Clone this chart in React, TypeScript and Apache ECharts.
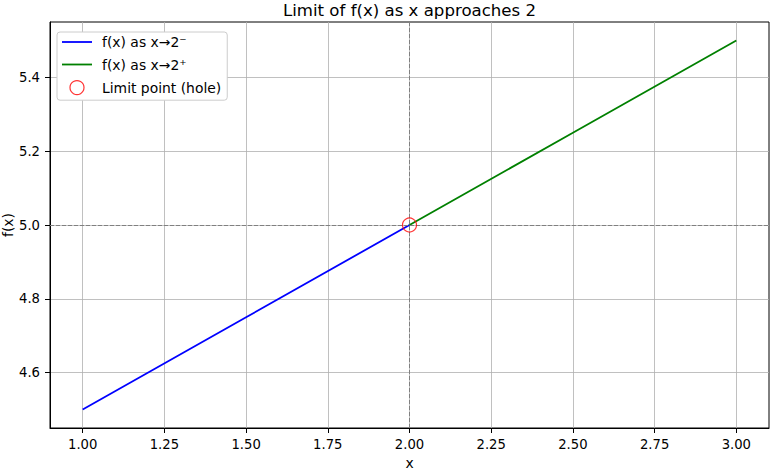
import React, { useEffect, useRef } from "react";
import * as echarts from "echarts";

const TITLE = "Limit of f(x) as x approaches 2";
const leftX = [1.0, 1.5, 2.0];
const leftY = [4.5, 4.75, 5.0];
const rightX = [2.0, 2.5, 3.0];
const rightY = [5.0, 5.25, 5.5];
const holePoint = [2.0, 5.0];
const xTicks = [1.0, 1.25, 1.5, 1.75, 2.0, 2.25, 2.5, 2.75, 3.0];
const yTicks = [4.6, 4.8, 5.0, 5.2, 5.4];
const seriesNames = ["f(x) as x→2⁻", "f(x) as x→2⁺", "Limit point (hole)"];

const FONT = "DejaVu Sans";
const LINE_ICON = "path://M0,0 M30,14 M0,6.1 L30,6.1 L30,7.9 L0,7.9 Z";

export default function App() {
  const ref = useRef<HTMLDivElement>(null);
  useEffect(() => {
    if (!ref.current) return;
    const chart = echarts.init(ref.current, undefined, { renderer: "svg" });
    const axisCommon = {
      axisLine: { show: true, onZero: false, lineStyle: { color: "#000", width: 1 } },
      axisTick: { show: true, inside: false, length: 5, lineStyle: { color: "#000" } },
      splitLine: { show: true, lineStyle: { color: "#b0b0b0", width: 0.8 } },
    };
    chart.setOption({
      animation: false,
      backgroundColor: "#fff",
      graphic: [
        {
          type: "text",
          x: 409.5,
          y: 10,
          style: {
            text: TITLE,
            fontFamily: FONT,
            fontSize: 16.6,
            fill: "#000",
            textAlign: "center",
            textVerticalAlign: "middle",
          },
        },
      ],
      grid: {
        left: 50,
        right: 15,
        top: 22,
        bottom: 45,
        outerBoundsMode: "none",
        containLabel: false,
        show: true,
        borderColor: "#000",
        borderWidth: 1,
        backgroundColor: "transparent",
      },
      legend: {
        orient: "vertical",
        left: 57,
        top: 32,
        itemWidth: 30,
        itemHeight: 14,
        itemGap: 8.5,
        padding: [3, 6, 5, 5],
        backgroundColor: "#fff",
        borderColor: "#cccccc",
        borderWidth: 1,
        borderRadius: 3,
        textStyle: { fontFamily: FONT, fontSize: 13.9, color: "#000", padding: [0, 0, 0, 5] },
        data: [
          { name: seriesNames[0], icon: LINE_ICON, itemStyle: { color: "#0000ff" } },
          { name: seriesNames[1], icon: LINE_ICON, itemStyle: { color: "#008000" } },
          { name: seriesNames[2], icon: "circle", itemStyle: { color: "transparent", borderColor: "#ff0000", borderWidth: 1.2 } },
        ],
      },
      xAxis: {
        type: "value",
        min: 0.9,
        max: 3.1,
        name: "x",
        nameLocation: "middle",
        nameGap: 28,
        nameMoveOverlap: false,
        nameTextStyle: { fontFamily: FONT, fontSize: 13.9, color: "#000" },
        ...axisCommon,
        axisTick: { ...axisCommon.axisTick, customValues: xTicks },
        axisLabel: {
          customValues: xTicks,
          fontFamily: FONT,
          fontSize: 13.2,
          color: "#000",
          margin: 10,
          formatter: (v: number) => v.toFixed(2),
        },
      },
      yAxis: {
        type: "value",
        min: 4.45,
        max: 5.55,
        name: "f(x)",
        nameLocation: "middle",
        nameGap: 35,
        nameRotate: 90,
        nameMoveOverlap: false,
        nameTextStyle: { fontFamily: FONT, fontSize: 13.9, color: "#000" },
        ...axisCommon,
        axisTick: { ...axisCommon.axisTick, customValues: yTicks },
        axisLabel: {
          customValues: yTicks,
          fontFamily: FONT,
          fontSize: 13.2,
          color: "#000",
          margin: 10,
          formatter: (v: number) => v.toFixed(1),
        },
      },
      series: [
        {
          name: "guides",
          type: "line",
          data: [],
          silent: true,
          z: 1,
          markLine: {
            symbol: "none",
            silent: true,
            label: { show: false },
            lineStyle: { color: "#808080", width: 1, type: [4, 2] },
            data: [{ xAxis: holePoint[0] }, { yAxis: holePoint[1] }],
          },
        },
        {
          name: seriesNames[0],
          type: "line",
          symbol: "none",
          z: 3,
          data: leftX.map((x, i) => [x, leftY[i]]),
          lineStyle: { color: "#0000ff", width: 1.8 },
          itemStyle: { color: "#0000ff" },
        },
        {
          name: seriesNames[1],
          type: "line",
          symbol: "none",
          z: 3,
          data: rightX.map((x, i) => [x, rightY[i]]),
          lineStyle: { color: "#008000", width: 1.8 },
          itemStyle: { color: "#008000" },
        },
        {
          name: seriesNames[2],
          type: "scatter",
          symbol: "circle",
          symbolSize: 14,
          z: 5,
          data: [holePoint],
          itemStyle: { color: "transparent", borderColor: "#ff0000", borderWidth: 1.2 },
        },
      ],
    });
    return () => chart.dispose();
  }, []);
  return <div ref={ref} style={{ width: 784, height: 473, position: "absolute", left: 0, top: 0 }} />;
}
